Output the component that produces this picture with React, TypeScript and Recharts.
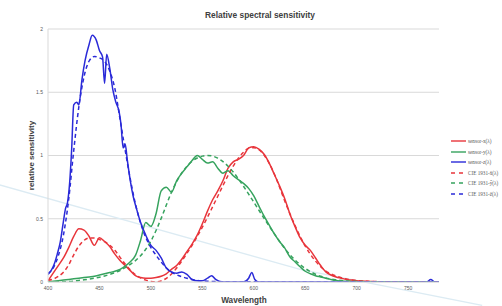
import React from 'react';
import { LineChart, Line, XAxis, YAxis, CartesianGrid, Legend, ReferenceLine, Customized } from 'recharts';

// Wavelength grid (nm) for sensor-x, sensor-y and the CIE 1931 curves
const wavelengths = [400, 405, 410, 415, 420, 425, 430, 435, 440, 445, 450, 455, 460, 465, 470, 475, 480, 485, 490, 495, 500, 505, 510, 515, 520, 525, 530, 535, 540, 545, 550, 555, 560, 565, 570, 575, 580, 585, 590, 595, 600, 605, 610, 615, 620, 625, 630, 635, 640, 645, 650, 655, 660, 665, 670, 675, 680, 685, 690, 695, 700, 705, 710, 715, 720, 725, 730, 735, 740, 745, 750, 755, 760, 765, 770, 775, 780];

const sensorX = [0.01, 0.07, 0.13, 0.19, 0.27, 0.36, 0.42, 0.41, 0.36, 0.29, 0.35, 0.32, 0.28, 0.22, 0.17, 0.13, 0.09, 0.05, 0.035, 0.03, 0.03, 0.035, 0.045, 0.065, 0.1, 0.13, 0.18, 0.24, 0.3, 0.37, 0.46, 0.56, 0.65, 0.72, 0.8, 0.9, 0.95, 0.97, 1.0, 1.06, 1.07, 1.05, 1.01, 0.94, 0.85, 0.76, 0.66, 0.54, 0.44, 0.35, 0.29, 0.25, 0.19, 0.13, 0.08, 0.055, 0.04, 0.03, 0.02, 0.015, 0.01, 0.007, 0.005, 0.003, 0.002, 0, 0, 0, 0, 0, 0, 0, 0, 0, 0, 0, 0];

const sensorY = [0, 0.005, 0.01, 0.015, 0.02, 0.025, 0.03, 0.035, 0.04, 0.045, 0.055, 0.065, 0.075, 0.085, 0.1, 0.125, 0.16, 0.21, 0.33, 0.47, 0.44, 0.54, 0.72, 0.75, 0.71, 0.8, 0.86, 0.91, 0.96, 1.0, 0.97, 0.94, 0.95, 0.9, 0.86, 0.88, 0.84, 0.81, 0.78, 0.74, 0.68, 0.6, 0.52, 0.45, 0.38, 0.32, 0.27, 0.2, 0.16, 0.12, 0.085, 0.065, 0.05, 0.04, 0.03, 0.02, 0.012, 0.008, 0.005, 0.003, 0.002, 0, 0, 0, 0, 0, 0, 0, 0, 0, 0, 0, 0, 0, 0, 0, 0];

const cieX = [0.014, 0.023, 0.044, 0.078, 0.134, 0.215, 0.284, 0.329, 0.348, 0.348, 0.336, 0.319, 0.291, 0.251, 0.195, 0.142, 0.096, 0.058, 0.032, 0.015, 0.005, 0.002, 0.009, 0.029, 0.063, 0.11, 0.166, 0.226, 0.29, 0.36, 0.433, 0.512, 0.595, 0.678, 0.762, 0.843, 0.916, 0.979, 1.026, 1.057, 1.062, 1.046, 1.003, 0.938, 0.854, 0.751, 0.642, 0.542, 0.448, 0.361, 0.284, 0.219, 0.165, 0.121, 0.087, 0.064, 0.047, 0.033, 0.023, 0.016, 0.011, 0.008, 0.006, 0.004, 0.003, 0.002, 0.001, 0.001, 0.001, 0, 0, 0, 0, 0, 0, 0, 0];

const cieY = [0, 0.001, 0.001, 0.002, 0.004, 0.007, 0.012, 0.017, 0.023, 0.03, 0.038, 0.048, 0.06, 0.074, 0.091, 0.113, 0.139, 0.169, 0.208, 0.259, 0.323, 0.407, 0.503, 0.608, 0.71, 0.793, 0.862, 0.915, 0.954, 0.98, 0.995, 1.0, 0.995, 0.979, 0.952, 0.915, 0.87, 0.816, 0.757, 0.695, 0.631, 0.567, 0.503, 0.441, 0.381, 0.321, 0.265, 0.217, 0.175, 0.138, 0.107, 0.082, 0.061, 0.045, 0.032, 0.023, 0.017, 0.012, 0.008, 0.006, 0.004, 0.003, 0.002, 0.001, 0.001, 0.001, 0, 0, 0, 0, 0, 0, 0, 0, 0, 0, 0];

const cieZ = [0.068, 0.11, 0.207, 0.371, 0.646, 1.039, 1.386, 1.623, 1.747, 1.783, 1.772, 1.744, 1.669, 1.528, 1.288, 1.042, 0.813, 0.616, 0.465, 0.353, 0.272, 0.212, 0.158, 0.112, 0.078, 0.057, 0.042, 0.03, 0.02, 0.013, 0.009, 0.006, 0.004, 0.003, 0.002, 0.002, 0.002, 0.001, 0.001, 0.001, 0.001, 0.001, 0, 0, 0, 0, 0, 0, 0, 0, 0, 0, 0, 0, 0, 0, 0, 0, 0, 0, 0, 0, 0, 0, 0, 0, 0, 0, 0, 0, 0, 0, 0, 0, 0, 0, 0];

// sensor-z is sampled more finely (sharp features)
const blueWavelengths = [400, 403, 406, 409, 412, 415, 417, 419, 421, 423, 425, 428, 430, 433, 436, 440, 443, 447, 450, 453, 455, 457, 460, 463, 466, 469, 471, 473, 475, 477, 480, 483, 486, 490, 495, 500, 505, 510, 515, 520, 525, 530, 535, 540, 545, 550, 555, 559, 563, 567, 575, 590, 595, 598, 601, 605, 620, 700, 768, 772, 776, 780];
const sensorZ = [0.06, 0.09, 0.14, 0.22, 0.32, 0.48, 0.58, 0.63, 0.78, 1.05, 1.4, 1.42, 1.4, 1.6, 1.75, 1.88, 1.95, 1.91, 1.83, 1.78, 1.57, 1.8, 1.69, 1.52, 1.42, 1.35, 1.24, 1.06, 1.09, 0.97, 0.8, 0.67, 0.58, 0.47, 0.37, 0.29, 0.25, 0.19, 0.11, 0.08, 0.07, 0.08, 0.06, 0.02, 0.01, 0.01, 0.03, 0.05, 0.02, 0.005, 0, 0, 0.03, 0.075, 0.02, 0, 0, 0, 0, 0.02, 0, 0];

const xTicks = [400, 450, 500, 550, 600, 650, 700, 750];
const yTicks = [0, 0.5, 1, 1.5, 2];

const seriesNames = ['sensor-x(λ)', 'sensor-y(λ)', 'sensor-z(λ)', 'CIE 1931-x̄(λ)', 'CIE 1931-ȳ(λ)', 'CIE 1931-z̄(λ)'];

// faint diagonal glare line seen across the picture (data coordinates)
const glarePoints = [
  { x: 352, y: 0.77 },
  { x: 645, y: 0.1 },
  { x: 822, y: -0.185 },
];

const RED = '#e8353b';
const GREEN = '#36a35e';
const BLUE = '#2a2ad8';

const rows = wavelengths.map((w, i) => ({
  w,
  sx: sensorX[i],
  sy: sensorY[i],
  cx: cieX[i],
  cy: cieY[i],
  cz: cieZ[i],
}));
const blueRows = blueWavelengths.map((w, i) => ({ w, sz: sensorZ[i] }));

const renderLegend = (props: any) => {
  const payload = [...(props.payload || [])].sort(
    (a: any, b: any) => seriesNames.indexOf(a.value) - seriesNames.indexOf(b.value)
  );
  return (
    <div>
      {payload.map((e: any, i: number) => {
        const dashed = String(e.value).startsWith('CIE');
        return (
          <div key={i} style={{ display: 'flex', alignItems: 'center', height: 10.5 }}>
            <svg width={16} height={6} style={{ display: 'block', flex: 'none' }}>
              <line x1={0} y1={3} x2={15} y2={3} stroke={e.color} strokeWidth={1.4} strokeDasharray={dashed ? '4 4' : undefined} />
            </svg>
            <span style={{ fontSize: 5.2, color: '#595959', marginLeft: 1, whiteSpace: 'nowrap', fontFamily: 'Liberation Serif, serif', lineHeight: '6px' }}>{e.value}</span>
          </div>
        );
      })}
    </div>
  );
};

const Texts = () => (
  <g fontFamily="Liberation Sans, Arial, sans-serif" fontWeight="bold" fill="#404040">
    <text x={260} y={18} fontSize={8.4} textAnchor="middle">Relative spectral sensitivity</text>
    <text x={244} y={303} fontSize={8.2} textAnchor="middle">Wavelength</text>
    <text x={34} y={155.5} fontSize={8} textAnchor="middle" transform="rotate(-90 34 155.5)">relative sensitivity</text>
  </g>
);

export default function App() {
  return (
    <div style={{ position: 'absolute', left: 0, top: 0, width: 502, height: 306, background: '#fff' }}>
      <LineChart width={502} height={306} data={rows} margin={{ top: 29, right: 63, bottom: 0, left: 0 }}>
        <CartesianGrid vertical={false} stroke="#d9d9d9" strokeWidth={1} />
        <XAxis
          type="number"
          dataKey="w"
          domain={[400, 780]}
          ticks={xTicks}
          allowDataOverflow
          height={24}
          tickSize={0}
          tickMargin={4}
          axisLine={{ stroke: '#d9d9d9' }}
          tick={{ fontSize: 5, fill: '#595959', fontFamily: 'Liberation Sans, sans-serif' }}
        />
        <YAxis
          type="number"
          domain={[0, 2]}
          ticks={yTicks}
          allowDataOverflow
          width={48}
          tickSize={0}
          tickMargin={5}
          axisLine={{ stroke: '#d9d9d9' }}
          tick={{ fontSize: 5, fill: '#595959', fontFamily: 'Liberation Sans, sans-serif' }}
        />
        <ReferenceLine segment={[glarePoints[0], glarePoints[1]]} stroke="#dcebf3" strokeWidth={1.3} ifOverflow="visible" />
        <ReferenceLine segment={[glarePoints[1], glarePoints[2]]} stroke="#dcebf3" strokeWidth={1.3} ifOverflow="visible" />
        <Line name={seriesNames[0]} dataKey="sx" stroke={RED} strokeWidth={1.5} dot={false} type="monotone" isAnimationActive={false} />
        <Line name={seriesNames[1]} dataKey="sy" stroke={GREEN} strokeWidth={1.5} dot={false} type="monotone" isAnimationActive={false} />
        <Line name={seriesNames[2]} data={blueRows} dataKey="sz" stroke={BLUE} strokeWidth={1.5} dot={false} type="monotone" isAnimationActive={false} />
        <Line name={seriesNames[3]} dataKey="cx" stroke={RED} strokeWidth={1.5} strokeDasharray="4 3" dot={false} type="monotone" isAnimationActive={false} />
        <Line name={seriesNames[4]} dataKey="cy" stroke={GREEN} strokeWidth={1.5} strokeDasharray="4 3" dot={false} type="monotone" isAnimationActive={false} />
        <Line name={seriesNames[5]} dataKey="cz" stroke={BLUE} strokeWidth={1.5} strokeDasharray="4 3" dot={false} type="monotone" isAnimationActive={false} />
        <Legend layout="vertical" align="center" verticalAlign="middle" content={renderLegend} wrapperStyle={{ left: 451, top: 136, width: 51 }} />
        <Customized component={Texts} />
      </LineChart>
    </div>
  );
}
